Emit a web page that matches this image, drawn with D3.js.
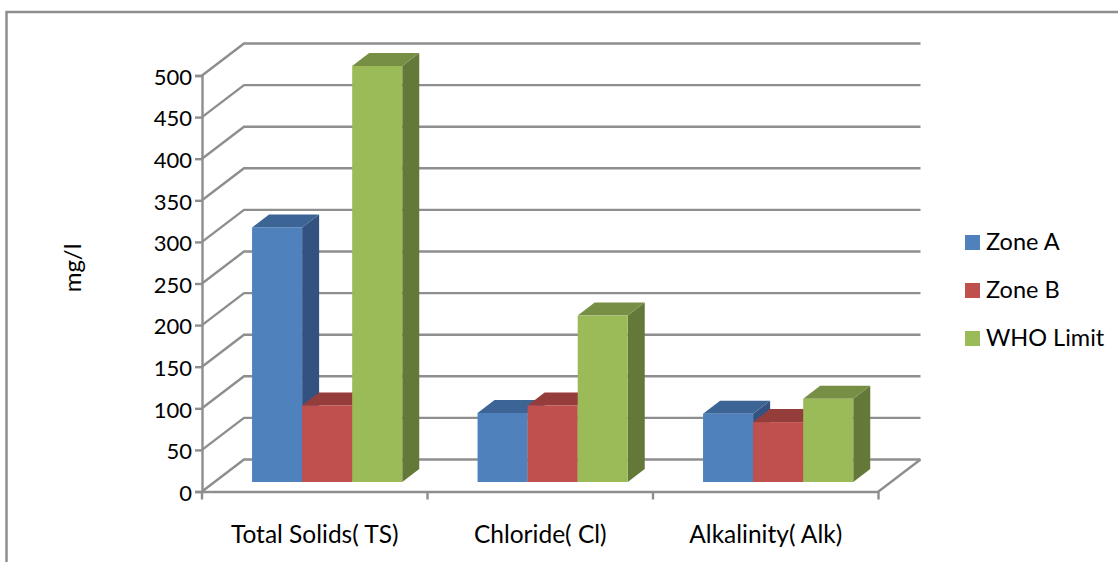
<!DOCTYPE html>
<meta charset="UTF-8">
<style>
body { margin: 0; background: #fff; }
text { font-family: Lato, sans-serif; fill: #000; }
</style>
<body>
<script src="https://d3js.org/d3.v7.min.js"></script>
<script>
var categories = ["Total Solids( TS)", "Chloride( Cl)", "Alkalinity( Alk)"];
var seriesNames = ["Zone A", "Zone B", "WHO Limit"];
var zoneA = [306, 83, 82];
var zoneB = [92, 92, 72];
var whoLimit = [500, 200, 100];
var yTicks = [0, 50, 100, 150, 200, 250, 300, 350, 400, 450, 500];

var frontColors = ["#4f81bd", "#c0504d", "#9bbb59"];
var topColors = ["#3c6494", "#953d3b", "#778f45"];
var sideColors = ["#335280", "#7f3331", "#64783a"];
var axisColor = "#8e8e8e";

var seriesValues = [zoneA, zoneB, whoLimit];

var svg = d3.select("body").append("svg")
    .attr("width", 1118)
    .attr("height", 562)
    .style("display", "block");

// outer chart frame, cut off by the picture on the right and bottom
svg.append("path")
    .attr("d", "M6.5,562V12H1118")
    .attr("fill", "none")
    .attr("stroke", axisColor)
    .attr("stroke-width", 2.5);

var x = d3.scaleBand().domain(categories).range([202, 878.5]);
var y = d3.scaleLinear().domain([0, 500]).range([491.5, 75.5]);
var xSeries = d3.scaleBand().domain(seriesNames)
    .range([x.bandwidth() * 0.222, x.bandwidth() * 0.888]);

// depth of the floor, and how deep the bars sit in it
var wallDx = 42, wallDy = -32;
var barDx = 17, barDy = -13;
var barLift = -9.5;

var walls = svg.append("g")
    .attr("fill", "none")
    .attr("stroke", axisColor)
    .attr("stroke-width", 2.4);

// gridlines along the back wall and the slanted side wall
yTicks.forEach(function(t) {
  walls.append("path")
    .attr("d", "M" + 202 + "," + y(t)
      + "L" + (202 + wallDx) + "," + (y(t) + wallDy)
      + "H" + (878.5 + wallDx));
});
// floor, right edge
walls.append("path")
  .attr("d", "M878.5," + y(0) + "L" + (878.5 + wallDx) + "," + (y(0) + wallDy));

// axes
var yAxis = d3.axisLeft(y).tickValues(yTicks).tickSize(7).tickPadding(3);
var yG = svg.append("g").attr("transform", "translate(202,0)").call(yAxis);
var xAxis = d3.axisBottom(x).tickValues([]).tickSizeOuter(0);
var xG = svg.append("g").attr("transform", "translate(0," + y(0) + ")").call(xAxis);
[yG, xG].forEach(function(g) {
  g.selectAll("path, line").attr("stroke", axisColor).attr("stroke-width", 2.4);
});
yG.selectAll("text").style("font-size", "22px").attr("fill", "#000").attr("dy", "0.4em");

// x ticks fall on the band edges
xG.selectAll(".edge")
    .data(categories.map(function(c) { return x(c); }).concat([x.range()[1]]))
  .enter().append("line")
    .attr("class", "edge")
    .attr("x1", function(d) { return d; })
    .attr("x2", function(d) { return d; })
    .attr("y1", 0)
    .attr("y2", 8)
    .attr("stroke", axisColor)
    .attr("stroke-width", 2.4);

svg.append("g").selectAll("text")
    .data(categories)
  .enter().append("text")
    .attr("x", function(d) { return x(d) + x.bandwidth() / 2; })
    .attr("y", 543)
    .attr("text-anchor", "middle")
    .style("font-size", "24.5px")
    .text(function(d) { return d; });

// bars, drawn series by series so nearer faces overlap correctly
var bars = svg.append("g");
categories.forEach(function(cat, c) {
  seriesNames.forEach(function(name, s) {
    var x0 = x(cat) + xSeries(name);
    var x1 = x0 + xSeries.bandwidth();
    var yb = y(0) + barLift;
    var yt = y(seriesValues[s][c]) + barLift;
    var g = bars.append("g");
    g.append("path")
      .attr("fill", sideColors[s])
      .attr("d", "M" + x1 + "," + yb + "V" + yt
        + "l" + barDx + "," + barDy + "V" + (yb + barDy) + "Z");
    g.append("path")
      .attr("fill", topColors[s])
      .attr("d", "M" + x0 + "," + yt + "H" + x1
        + "l" + barDx + "," + barDy + "H" + (x0 + barDx) + "Z");
    g.append("rect")
      .attr("fill", frontColors[s])
      .attr("x", x0)
      .attr("y", yt)
      .attr("width", x1 - x0)
      .attr("height", yb - yt);
  });
});

// y axis title
svg.append("text")
    .attr("transform", "translate(81,268) rotate(-90)")
    .attr("text-anchor", "middle")
    .style("font-size", "24px")
    .text("mg/l");

// legend
var legendY = d3.scalePoint().domain(seriesNames).range([242.5, 338.5]);
var legend = svg.append("g").selectAll("g")
    .data(seriesNames)
  .enter().append("g")
    .attr("transform", function(d) { return "translate(965," + legendY(d) + ")"; });
legend.append("rect")
    .attr("y", -7.5)
    .attr("width", 15)
    .attr("height", 15)
    .attr("fill", function(d, i) { return frontColors[i]; });
legend.append("text")
    .attr("x", 21)
    .attr("y", 7.5)
    .style("font-size", "23.5px")
    .text(function(d) { return d; });
</script>
</body>
